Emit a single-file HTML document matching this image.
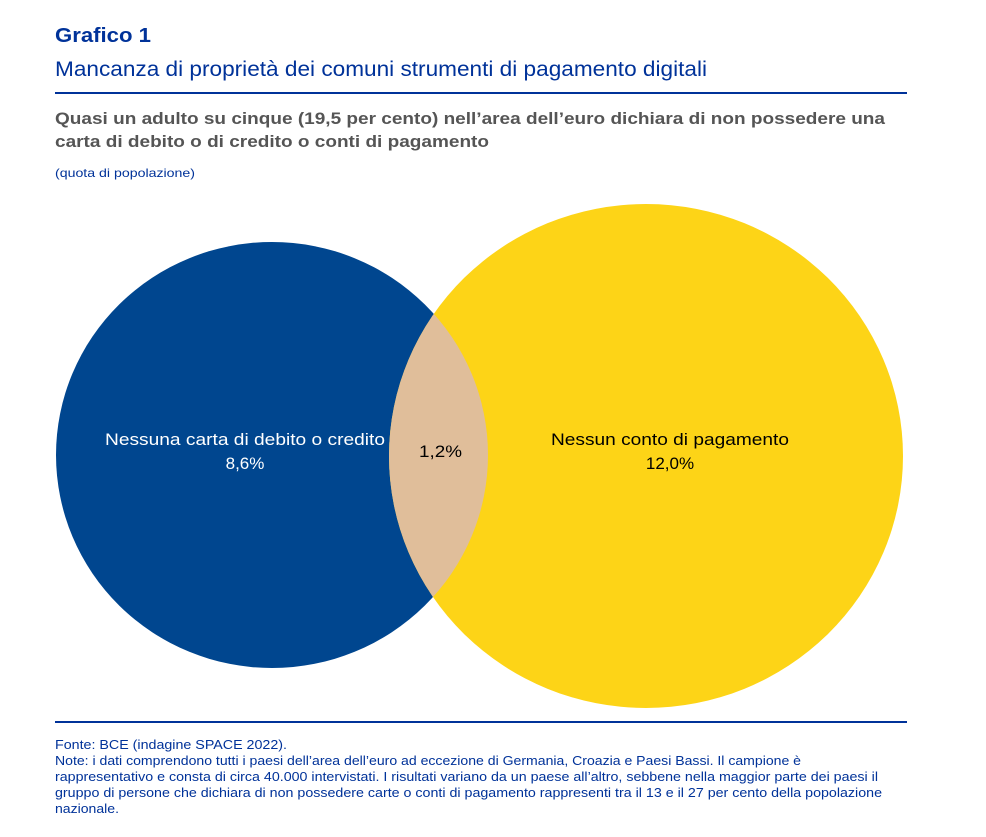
<!DOCTYPE html>
<html><head><meta charset="utf-8"><style>
body{margin:0;background:#fff;width:986px;height:832px;overflow:hidden;font-family:"Liberation Sans",Arial,sans-serif}
</style></head><body>
<svg width="986" height="832" xmlns="http://www.w3.org/2000/svg" font-family="Liberation Sans, Arial, sans-serif">
<text x="55" y="42" font-size="20" font-weight="bold" fill="#003299" textLength="96" lengthAdjust="spacingAndGlyphs">Grafico 1</text>
<text x="55" y="76" font-size="21" fill="#003299" textLength="652" lengthAdjust="spacingAndGlyphs">Mancanza di proprietà dei comuni strumenti di pagamento digitali</text>
<line x1="55" y1="93" x2="907" y2="93" stroke="#003299" stroke-width="2"/>
<text x="55" y="124" font-size="17" font-weight="bold" fill="#555" textLength="830" lengthAdjust="spacingAndGlyphs">Quasi un adulto su cinque (19,5 per cento) nell’area dell’euro dichiara di non possedere una</text>
<text x="55" y="147" font-size="17" font-weight="bold" fill="#555" textLength="434" lengthAdjust="spacingAndGlyphs">carta di debito o di credito o conti di pagamento</text>
<text x="55" y="177" font-size="12" fill="#003299" textLength="140" lengthAdjust="spacingAndGlyphs">(quota di popolazione)</text>
<defs><clipPath id="c"><ellipse cx="272" cy="455" rx="216" ry="213"/></clipPath></defs>
<ellipse cx="272" cy="455" rx="216" ry="213" fill="#00468f"/>
<ellipse cx="646" cy="456" rx="257" ry="252" fill="#fdd417"/>
<ellipse cx="646" cy="456" rx="257" ry="252" fill="#e0be9a" clip-path="url(#c)"/>
<text x="105" y="445" font-size="17" fill="#fff" textLength="280" lengthAdjust="spacingAndGlyphs">Nessuna carta di debito o credito</text>
<text x="245" y="469" font-size="17" fill="#fff" text-anchor="middle">8,6%</text>
<text x="419" y="457" font-size="17" fill="#000" textLength="43" lengthAdjust="spacingAndGlyphs">1,2%</text>
<text x="551" y="445" font-size="17" fill="#000" textLength="238" lengthAdjust="spacingAndGlyphs">Nessun conto di pagamento</text>
<text x="670" y="469" font-size="17" fill="#000" text-anchor="middle">12,0%</text>
<line x1="55" y1="722" x2="907" y2="722" stroke="#003299" stroke-width="2"/>
<g font-size="13" fill="#003299" lengthAdjust="spacingAndGlyphs">
<text x="55" y="749" textLength="232" lengthAdjust="spacingAndGlyphs">Fonte: BCE (indagine SPACE 2022).</text>
<text x="55" y="765" textLength="746" lengthAdjust="spacingAndGlyphs">Note: i dati comprendono tutti i paesi dell’area dell’euro ad eccezione di Germania, Croazia e Paesi Bassi. Il campione è</text>
<text x="55" y="781" textLength="823" lengthAdjust="spacingAndGlyphs">rappresentativo e consta di circa 40.000 intervistati. I risultati variano da un paese all’altro, sebbene nella maggior parte dei paesi il</text>
<text x="55" y="797" textLength="827" lengthAdjust="spacingAndGlyphs">gruppo di persone che dichiara di non possedere carte o conti di pagamento rappresenti tra il 13 e il 27 per cento della popolazione</text>
<text x="55" y="813" textLength="64" lengthAdjust="spacingAndGlyphs">nazionale.</text>
</g>
</svg>
</body></html>
